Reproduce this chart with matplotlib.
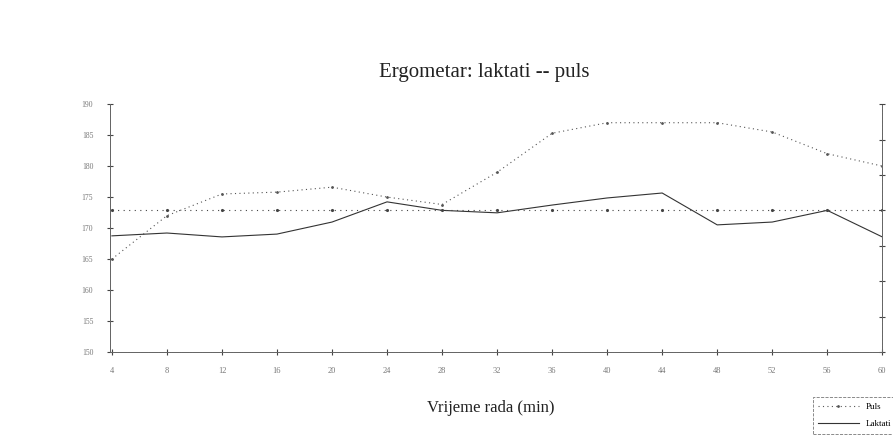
import matplotlib
matplotlib.use("Agg")
import matplotlib.pyplot as plt

# time (min)
vrijeme = [4, 8, 12, 16, 20, 24, 28, 32, 36, 40, 44, 48, 52, 56, 60]
# heart rate (left axis)
puls = [165, 172, 175.5, 175.8, 176.6, 175, 173.8, 179, 185.3, 187, 187, 187, 185.5, 182, 180]
# lactate mmol/L (right axis)
laktati = [3.28, 3.36, 3.25, 3.33, 3.67, 4.24, 4.0, 3.93, 4.15, 4.35, 4.49, 3.59, 3.67, 4.0, 3.25]
prag = [4.0] * len(vrijeme)  # anaerobic threshold line

puls_ticks = [150, 155, 160, 165, 170, 175, 180, 185, 190]

plt.rcParams['font.family'] = ['Liberation Serif', 'DejaVu Serif']

fig = plt.figure(figsize=(8.93, 4.45), dpi=100)
ax = fig.add_axes([0.123, 0.209, 0.865, 0.557])
ax2 = ax.twinx()

ax.plot(vrijeme, puls, color='#555555', lw=0.8, ls=(0, (1, 3)),
        marker='.', ms=2, label='Puls')
ax2.plot(vrijeme, laktati, color='#333333', lw=0.8, ls='-', label='Laktati')
ax2.plot(vrijeme, prag, color='#444444', lw=0.8, ls=(0, (1, 4)),
         marker='.', ms=2.5)

ax.set_xlim(3.85, 60)
ax.set_ylim(150, 190)
ax2.set_ylim(0, 7)
ax.set_xticks(vrijeme)
ax.set_yticks(puls_ticks)
ax2.set_yticks(range(0, 8))

for a in (ax, ax2):
    a.spines['top'].set_visible(False)
    for s in a.spines.values():
        s.set_color('#666666')
        s.set_linewidth(0.7)
ax.spines['bottom'].set_linestyle('-.')
ax.spines['left'].set_linestyle((0, (3, 1)))
ax2.spines['right'].set_linestyle((0, (2, 2)))

ax.tick_params(axis='x', direction='inout', length=5, width=0.8, colors='#444444',
               labelsize=6, labelcolor='#777777', pad=8)
ax.tick_params(axis='y', direction='inout', length=4, width=0.8, colors='#444444',
               labelsize=5.5, labelcolor='#777777', pad=10)
ax2.tick_params(axis='y', direction='inout', length=4, width=0.8, colors='#444444',
                labelright=False)

fig.text(484 / 893, 1 - 72 / 445, 'Ergometar: laktati -- puls', fontsize=15,
         color='#222222', ha='center', va='center')
fig.text(491 / 893, 1 - 408 / 445, 'Vrijeme rada (min)', fontsize=12,
         color='#222222', ha='center', va='center')

h1, l1 = ax.get_legend_handles_labels()
h2, l2 = ax2.get_legend_handles_labels()
leg = fig.legend(h1 + h2, l1 + l2, loc='upper left', bbox_to_anchor=(0.905, 0.118),
                 fontsize=6.5, frameon=True, fancybox=False, handlelength=4.5,
                 borderpad=0.6, labelspacing=1.0)
leg.get_frame().set_edgecolor('#555555')
leg.get_frame().set_linestyle('--')
leg.get_frame().set_linewidth(0.6)

fig.savefig('out.png', dpi=100)
